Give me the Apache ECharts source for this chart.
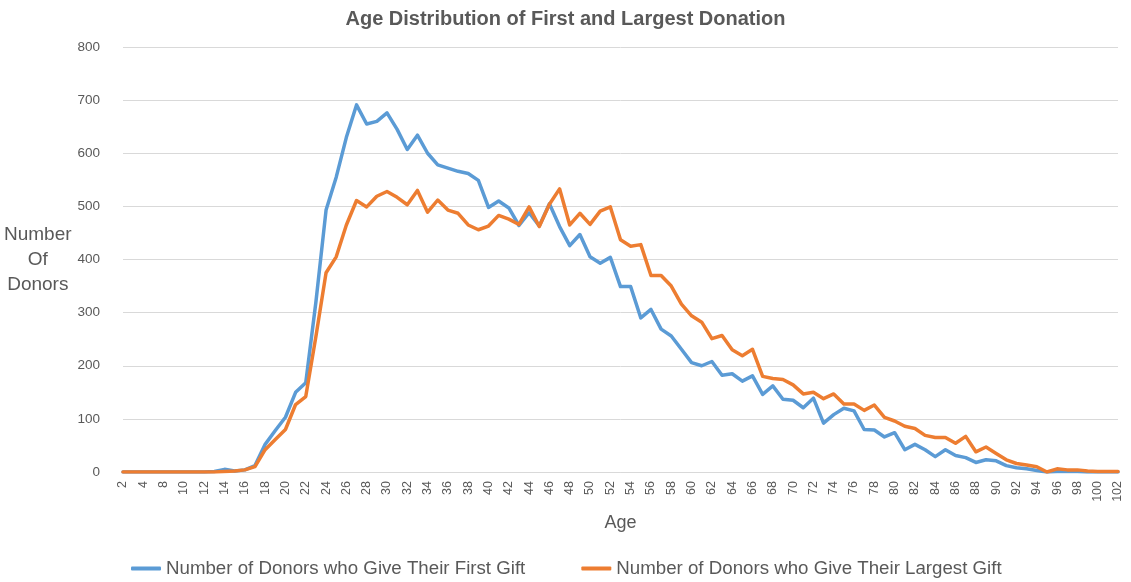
<!DOCTYPE html>
<html>
<head>
<meta charset="utf-8">
<script src="https://cdn.jsdelivr.net/npm/echarts@6/dist/echarts.min.js"></script>
<style>
  html, body { margin: 0; padding: 0; background: #fff; }
  #chart { width: 1131px; height: 582px; }
</style>
</head>
<body>
<div id="chart"></div>
<script>
// ages present in the source table (some young ages are missing)
var ages = ['2', '3', '4', '6', '8', '9', '10', '11', '12', '13', '14', '15', '16', '17', '18', '19',
  '20', '21', '22', '23', '24', '25', '26', '27', '28', '29', '30', '31', '32', '33', '34', '35',
  '36', '37', '38', '39', '40', '41', '42', '43', '44', '45', '46', '47', '48', '49', '50', '51',
  '52', '53', '54', '55', '56', '57', '58', '59', '60', '61', '62', '63', '64', '65', '66', '67',
  '68', '69', '70', '71', '72', '73', '74', '75', '76', '77', '78', '79', '80', '81', '82', '83',
  '84', '85', '86', '87', '88', '89', '90', '91', '92', '93', '94', '95', '96', '97', '98', '99',
  '100', '101', '102'];

var firstGift = [0, 0, 0, 0, 0, 0, 0, 0, 0, 1, 5, 2, 4, 12, 52, 78,
  103, 150, 168, 320, 493, 555, 630, 691, 655, 660, 676, 645, 607, 634, 600, 578,
  572, 566, 562, 549, 498, 510, 497, 464, 488, 463, 505, 462, 426, 447, 405, 393,
  404, 349, 349, 290, 306, 269, 256, 231, 206, 200, 208, 182, 185, 171, 181, 146,
  162, 137, 135, 121, 139, 92, 108, 120, 115, 80, 79, 66, 74, 42, 52, 42,
  29, 42, 31, 27, 18, 23, 21, 12, 8, 6, 3, 0, 1, 1, 1, 0,
  0, 0, 0];

var largestGift = [0, 0, 0, 0, 0, 0, 0, 0, 0, 0, 1, 2, 4, 10, 42, 61,
  80, 127, 142, 255, 375, 405, 465, 511, 499, 519, 528, 517, 503, 530, 489, 512,
  493, 487, 465, 456, 463, 483, 476, 466, 499, 462, 504, 533, 465, 487, 466, 491,
  499, 437, 425, 428, 370, 370, 350, 316, 294, 282, 251, 257, 230, 219, 231, 180,
  176, 174, 164, 147, 150, 138, 147, 128, 128, 116, 126, 103, 96, 86, 82, 69,
  65, 65, 54, 67, 38, 47, 35, 23, 16, 13, 10, 0, 6, 4, 4, 2,
  1, 1, 1];

var textColor = '#595959';
var gridColor = '#d9d9d9';
var font = '"Liberation Sans", sans-serif';

var chart = echarts.init(document.getElementById('chart'), null, { renderer: 'canvas' });
chart.setOption({
  animation: false,
  textStyle: { fontFamily: font },
  title: {
    text: 'Age Distribution of First and Largest Donation',
    left: 'center',
    top: 4,
    textStyle: { color: textColor, fontSize: 20, fontWeight: 'bold', fontFamily: font }
  },
  legend: {
    left: 126,
    top: 554,
    icon: 'roundRect',
    itemWidth: 30,
    itemHeight: 4,
    itemGap: 56,
    textStyle: { color: textColor, fontSize: 18.7, fontFamily: font },
    data: ['Number of Donors who Give Their First Gift', 'Number of Donors who Give Their Largest Gift']
  },
  grid: { left: 123, right: 13, top: 47, bottom: 110 },
  xAxis: {
    type: 'category',
    data: ages,
    boundaryGap: false,
    name: 'Age',
    nameLocation: 'middle',
    nameGap: 42,
    nameTextStyle: { color: textColor, fontSize: 18, fontFamily: font },
    axisLine: { lineStyle: { color: gridColor } },
    axisTick: { show: false },
    axisLabel: {
      interval: 1,
      rotate: 90,
      color: textColor,
      fontSize: 12.5,
      margin: 9,
      fontFamily: font
    }
  },
  yAxis: {
    type: 'value',
    min: 0,
    max: 800,
    interval: 100,
    name: 'Number\nOf\nDonors',
    nameLocation: 'middle',
    nameRotate: 0,
    nameGap: 79,
    nameTextStyle: { color: textColor, fontSize: 19, lineHeight: 25, align: 'center', fontFamily: font },
    axisLine: { show: false },
    axisTick: { show: false },
    axisLabel: { color: textColor, fontSize: 13.5, margin: 23, fontFamily: font },
    splitLine: { lineStyle: { color: gridColor } }
  },
  series: [
    {
      name: 'Number of Donors who Give Their First Gift',
      type: 'line',
      data: firstGift,
      symbol: 'none',
      lineStyle: { color: '#5b9bd5', width: 3.5, cap: 'round', join: 'round' },
      itemStyle: { color: '#5b9bd5' }
    },
    {
      name: 'Number of Donors who Give Their Largest Gift',
      type: 'line',
      data: largestGift,
      symbol: 'none',
      lineStyle: { color: '#ed7d31', width: 3.5, cap: 'round', join: 'round' },
      itemStyle: { color: '#ed7d31' }
    }
  ]
});
window.addEventListener('resize', function() { chart.resize(); });
</script>
</body>
</html>
